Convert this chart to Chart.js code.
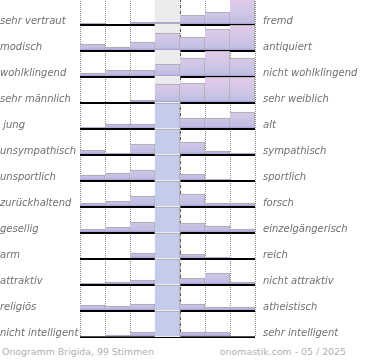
<!DOCTYPE html>
<html>
<head>
<meta charset="utf-8">
<title>Onogramm Brigida</title>
<script src="https://cdn.jsdelivr.net/npm/chart.js@4.4.1/dist/chart.umd.min.js"></script>
<style>
    body { margin: 0; background: #fff; }
    #wrap { position: relative; width: 370px; height: 360px; overflow: hidden; }
    #box { position: absolute; left: 0; top: -1px; width: 370px; height: 340px; }
    .foot { position: absolute; top: 346px; line-height: 12px; font: 9.4px "DejaVu Sans"; color: #b0b0b0; white-space: nowrap; }
</style>
</head>
<body>
<div id="wrap">
    <div id="box"><canvas id="chartOnogramm"></canvas></div>
    <div class="foot" style="left:2px">Onogramm Brigida, 99 Stimmen</div>
    <div class="foot" style="right:24px">onomastik.com - 05 / 2025</div>
</div>
<script>
// Skala: 7 Stufen, Werte in Prozent der Stimmen
const stufen = ['1', '2', '3', '4', '5', '6', '7'];

const linkeBegriffe = ['sehr vertraut', 'modisch', 'wohlklingend', 'sehr männlich', ' jung', 'unsympathisch',
    'unsportlich', 'zurückhaltend', 'gesellig', 'arm', 'attraktiv', 'religiös', 'nicht intelligent'];
const rechteBegriffe = ['fremd', 'antiquiert', 'nicht wohlklingend', 'sehr weiblich', 'alt', 'sympathisch',
    'sportlich', 'forsch', 'einzelgängerisch', 'reich', 'nicht attraktiv', 'atheistisch', 'sehr intelligent'];

const vertrautFremd = [2, 0, 3, 3, 10, 13, 68];
const modischAntiquiert = [7, 4, 9, 18, 14, 22, 26];
const wohlklingend = [4, 7, 7, 13, 19, 31, 19];
const maennlichWeiblich = [1, 1, 3, 19, 20, 28, 28];
const jungAlt = [2, 5, 5, 49, 11, 11, 17];
const sympathisch = [5, 2, 11, 63, 13, 4, 2];
const sportlich = [6, 8, 11, 66, 7, 2, 0];
const zurueckhaltendForsch = [4, 6, 11, 58, 13, 4, 4];
const geselligEinzelgaenger = [4, 6, 11, 58, 10, 7, 4];
const armReich = [0, 0, 6, 87, 5, 2, 0];
const attraktiv = [2, 3, 5, 68, 7, 12, 3];
const religioesAtheistisch = [6, 5, 7, 67, 7, 4, 4];
const intelligent = [0, 2, 5, 83, 5, 5, 0];

const zeilen = [vertrautFremd, modischAntiquiert, wohlklingend, maennlichWeiblich, jungAlt, sympathisch,
    sportlich, zurueckhaltendForsch, geselligEinzelgaenger, armReich, attraktiv, religioesAtheistisch, intelligent];

const MAX_WERT = 26; // sichtbare Höhe einer Zeile
const textFarbe = '#707070';
const labelFont = { family: 'DejaVu Sans', size: 10, style: 'italic' };

function fuellung(context, i) {
    const chart = context.chart;
    const scale = chart.scales['r' + i];
    if (!scale || !chart.chartArea) return '#c8c4e4';
    if (context.dataIndex === 3 && zeilen[i][3] > MAX_WERT) return '#c5cbea';
    const g = chart.ctx.createLinearGradient(0, scale.top, 0, scale.bottom);
    g.addColorStop(0, '#e2cbe9');
    g.addColorStop(0.55, '#d0c6e6');
    g.addColorStop(0.88, '#c0bfe4');
    g.addColorStop(1, '#9d92cc');
    return g;
}

function ohnePadding(s, breite) {
    s.width = breite;
    s.paddingTop = 0;
    s.paddingBottom = 0;
}

const skalen = {
    x: {
        type: 'category',
        labels: stufen,
        ticks: { display: false },
        border: { display: false, dash: [1, 1] },
        grid: { offset: true, drawTicks: false, color: '#888' }
    },
    x2: {
        type: 'category',
        labels: stufen,
        position: 'bottom',
        z: 1,
        ticks: { display: false },
        border: { display: false, dash: [3, 3] },
        grid: {
            offset: true,
            drawTicks: false,
            color: (ctx) => (ctx.index === 3 || ctx.index === 4) ? '#000' : 'rgba(0,0,0,0)'
        }
    },
    links: {
        type: 'category',
        labels: linkeBegriffe,
        position: 'left',
        offset: true,
        grid: { display: false, drawTicks: false },
        border: { display: false },
        ticks: { crossAlign: 'far', color: textFarbe, font: labelFont, labelOffset: 9, padding: 0, autoSkip: false },
        afterFit: (s) => ohnePadding(s, 80)
    },
    rechts: {
        type: 'category',
        labels: rechteBegriffe,
        position: 'right',
        offset: true,
        grid: { display: false, drawTicks: false },
        border: { display: false },
        ticks: { crossAlign: 'near', color: textFarbe, font: labelFont, labelOffset: 9, padding: 8, autoSkip: false },
        afterFit: (s) => ohnePadding(s, 115)
    },
    hinterg: { type: 'linear', display: false, min: 0, max: 1 }
};

// gestapelte Achsen: die zuletzt angelegte liegt oben
for (let i = zeilen.length - 1; i >= 0; i--) {
    skalen['r' + i] = {
        type: 'linear',
        position: 'left',
        stack: 'zeilen',
        stackWeight: 1,
        min: 0,
        max: MAX_WERT,
        z: 1,
        ticks: { display: false, stepSize: MAX_WERT },
        border: { display: false },
        grid: {
            drawTicks: false,
            lineWidth: 2,
            color: (ctx) => (ctx.tick && ctx.tick.value === 0) ? '#000' : 'rgba(0,0,0,0)'
        }
    };
}

const datensaetze = zeilen.map((werte, i) => ({
    label: linkeBegriffe[i],
    data: werte.map(v => Math.min(v, MAX_WERT)),
    yAxisID: 'r' + i,
    backgroundColor: (ctx) => fuellung(ctx, i),
    borderColor: '#a9a9a9',
    borderWidth: { top: 1, right: 1, bottom: 0, left: 0 },
    borderSkipped: 'bottom'
}));

// grauer Hintergrund der Mittelspalte
datensaetze.push({
    label: 'mitte',
    data: [0, 0, 0, 1, 0, 0, 0],
    yAxisID: 'hinterg',
    backgroundColor: '#ececef',
    borderWidth: 0
});

const canvas = document.getElementById('chartOnogramm');
try {
    new Chart(canvas, {
        type: 'bar',
        data: { labels: stufen, datasets: datensaetze },
        options: {
            responsive: true,
            maintainAspectRatio: false,
            animation: false,
            layout: { padding: { top: 0, bottom: 2, left: 0, right: 0 } },
            datasets: { bar: { grouped: false, barPercentage: 1, categoryPercentage: 1 } },
            plugins: { legend: { display: false }, tooltip: { enabled: false } },
            scales: skalen
        }
    });
} catch (error) {
    console.error('Fehler im Onogramm:', error);
}
</script>
</body>
</html>
